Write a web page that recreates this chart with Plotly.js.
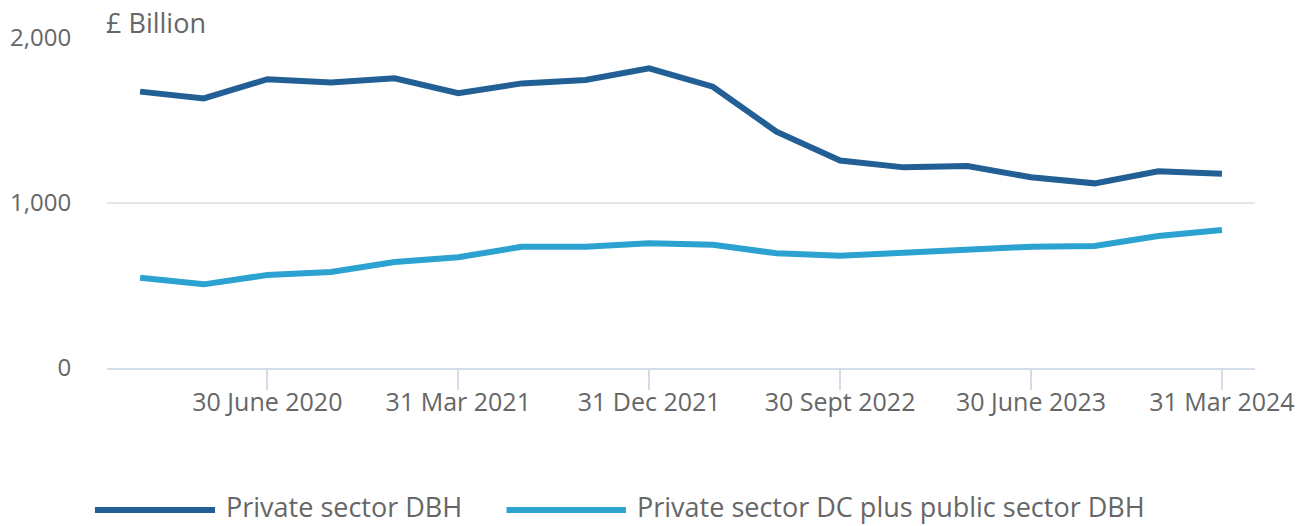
<!DOCTYPE html>
<html>
<head>
<meta charset="utf-8">
<script src="https://cdn.plot.ly/plotly-3.0.1.min.js"></script>
<style>
  html, body { margin: 0; padding: 0; background: #fff; }
  #chart { width: 1307px; height: 526px; }
</style>
</head>
<body>
<div id="chart"></div>
<script>
// Quarter-end dates (Dec 2019 .. Mar 2024)
const quarters = [
  "31 Dec 2019", "31 Mar 2020", "30 June 2020", "30 Sept 2020",
  "31 Dec 2020", "31 Mar 2021", "30 June 2021", "30 Sept 2021",
  "31 Dec 2021", "31 Mar 2022", "30 June 2022", "30 Sept 2022",
  "31 Dec 2022", "31 Mar 2023", "30 June 2023", "30 Sept 2023",
  "31 Dec 2023", "31 Mar 2024"
];
const seriesNames = ["Private sector DBH", "Private sector DC plus public sector DBH"];
const privateDBH = [1675, 1634, 1750, 1731, 1756, 1665, 1725, 1745, 1816, 1705,
                    1432, 1257, 1216, 1224, 1156, 1119, 1192, 1178];
const dcPlusPublic = [547, 507, 564, 582, 642, 671, 735, 735, 756, 747,
                      695, 681, 699, 719, 735, 739, 800, 836];
const xTickVals = ["30 June 2020", "31 Mar 2021", "31 Dec 2021", "30 Sept 2022", "30 June 2023", "31 Mar 2024"];
const yTickVals = [0, 1000, 2000];
const yTickText = ["0", "1,000", "2,000"];
const yUnit = "£ Billion";

const colors = ["#215f94", "#2ba2cf"];
const font = "'Open Sans', sans-serif";
const textColor = "#666666";

const traces = [privateDBH, dcPlusPublic].map((vals, i) => ({
  type: "scatter",
  mode: "lines",
  name: seriesNames[i],
  x: quarters,
  y: vals,
  line: { color: colors[i], width: 6 },
  hoverinfo: "x+y+name"
}));

// Custom legend (long line swatches), placed in paper coordinates
const legendPos = [
  { x0: -0.0105, x1: 0.0941, tx: 0.103 },
  { x0: 0.348, x1: 0.452, tx: 0.461 }
];
const legLineY = -0.4303;
const legTextY = -0.4212;
const shapes = legendPos.map((p, i) => ({
  type: "line", xref: "paper", yref: "paper",
  x0: p.x0, x1: p.x1, y0: legLineY, y1: legLineY,
  line: { color: colors[i], width: 6 }
}));
const annotations = legendPos.map((p, i) => ({
  xref: "paper", yref: "paper", x: p.tx, y: legTextY,
  xanchor: "left", yanchor: "middle", showarrow: false,
  text: seriesNames[i], borderpad: 0,
  font: { family: font, size: 27, color: textColor }
}));
annotations.push({
  xref: "paper", yref: "paper", x: 0, y: 1.048,
  xanchor: "left", yanchor: "middle", showarrow: false,
  text: yUnit, xshift: -2, borderpad: 0,
  font: { family: font, size: 27, color: textColor }
});

const layout = {
  width: 1307, height: 526,
  margin: { l: 107, r: 52, t: 38, b: 158 },
  paper_bgcolor: "#ffffff",
  plot_bgcolor: "#ffffff",
  showlegend: false,
  font: { family: font, color: textColor },
  xaxis: {
    type: "category",
    range: [-0.52, 17.52],
    tickmode: "array",
    tickvals: xTickVals,
    ticktext: xTickVals,
    ticks: "outside",
    ticklen: 20,
    tickwidth: 2,
    tickcolor: "#d3dde9",
    ticklabelstandoff: -9,
    showline: true,
    linecolor: "#d3dde9",
    linewidth: 2,
    showgrid: false,
    zeroline: false,
    tickfont: { family: font, size: 25, color: textColor },
    fixedrange: true
  },
  yaxis: {
    range: [0, 2000],
    tickmode: "array",
    tickvals: yTickVals,
    ticktext: yTickText,
    ticks: "outside",
    ticklen: 30,
    tickcolor: "rgba(0,0,0,0)",
    showgrid: true,
    gridcolor: "#e6e6e6",
    gridwidth: 2,
    zeroline: false,
    showline: false,
    tickfont: { family: font, size: 24, color: textColor },
    fixedrange: true
  },
  shapes: shapes,
  annotations: annotations
};

Plotly.newPlot("chart", traces, layout, { displayModeBar: false, staticPlot: false });
</script>
</body>
</html>
